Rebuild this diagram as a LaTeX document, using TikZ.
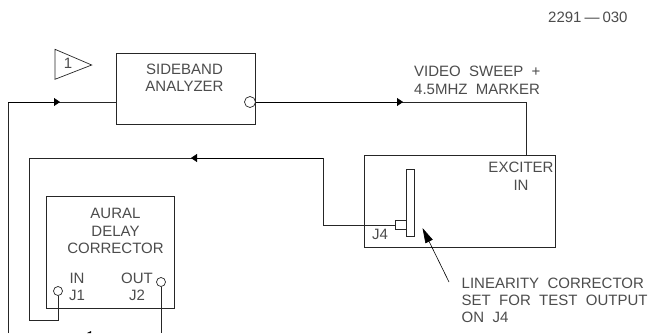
\documentclass[tikz,border=0pt]{standalone}
\usepackage{fontspec}
\setmainfont{Liberation Sans}
\usetikzlibrary{arrows.meta}
\tikzset{
  x=1pt,y=-1pt,
  ln/.style={draw=black!85,line width=0.8pt},
  boxs/.style={draw=black!85,line width=0.8pt,fill=white,inner sep=0pt,outer sep=0pt},
  jack/.style={circle,draw=black!85,line width=0.7pt,fill=white,minimum size=9pt,inner sep=0pt,outer sep=0pt},
  lab/.style={font=\fontsize{15}{16}\selectfont,text=black!70,inner sep=0pt,align=center,anchor=base},
  laball/.style={font=\fontsize{15}{16}\selectfont,text=black!70,inner sep=0pt,align=left,anchor=base west},
  fwd/.style={-{Triangle[length=6pt,width=8pt,fill=black]}},
}
\begin{document}
\begin{tikzpicture}
\useasboundingbox (0,0) rectangle (649,333);
\fill[white] (0,0) rectangle (649,333);
% coordinates
\coordinate (a1) at (8,333);
\coordinate (a2) at (8,102);
\coordinate (am) at (60,102);
\coordinate (b1) at (323,225);
\coordinate (b2) at (323,158);
\coordinate (b3) at (191,158);
\coordinate (b4) at (29,158);
\coordinate (b5) at (29,320);
\coordinate (b6) at (58,320);
\coordinate (c2) at (526.5,102);
\coordinate (cm) at (403,102);
\coordinate (d1) at (161,333);
\coordinate (lead) at (449,282);
\coordinate (tip) at (422.5,228);
% boxes
\node[boxs,anchor=north west,minimum width=139pt,minimum height=70.5pt] (sb) at (116.5,53.5) {};
\node[boxs,anchor=north west,minimum width=128pt,minimum height=112pt] (ad) at (46.5,196.5) {};
\node[boxs,anchor=north west,minimum width=191pt,minimum height=92pt] (ex) at (364.5,155) {};
\node[boxs,anchor=north west,minimum width=8.5pt,minimum height=67.5pt] (lc) at (406,169) {};
\node[boxs,anchor=north west,minimum width=11pt,minimum height=8.5pt] (j4) at (395,220.7) {};
\node[jack,minimum size=11pt] (so) at (250,102) {};
\node[jack] (j1) at (58,291) {};
\node[jack] (j2) at (161,282) {};
\draw[draw=black!85,line width=0.7pt] (55,49.3) -- (91.7,65) -- (55,79.3) -- cycle;
% connectors
\draw[ln] (a1) -- (a2) -- (sb.west |- a2);
\draw[fwd,draw=black] (a2) -- (am);
\draw[ln] (so) -- (c2) -- (c2 |- ex.north);
\draw[fwd,draw=black] (so) -- (cm);
\draw[ln] (j4.west) -- (b1 |- j4.west) -- (b2) -- (b4) -- (b5) -- (b6) -- (j1);
\draw[fwd,draw=black] (b2) -- (b3);
\draw[ln] (j2) -- (d1);
\draw[-{Triangle[length=15pt,width=8pt,fill=black]},draw=black,line width=0.6pt] (lead) -- (tip);
\fill[black] (91,331) -- (87,333) -- (91,333) -- cycle;
% text
\node[lab] (n0) at (184.5,74) {SIDEBAND};
\node[lab] (n1) at (184.5,91) {ANALYZER};
\node[lab] (n2) at (115.5,218) {AURAL};
\node[lab] (n3) at (115.5,236) {DELAY};
\node[lab] (n4) at (115.5,253) {CORRECTOR};
\node[lab] (n5) at (77,283) {IN};
\node[lab] (n6) at (77,300) {J1};
\node[lab] (n7) at (137,283) {OUT};
\node[lab] (n8) at (137,300) {J2};
\node[lab] (n9) at (521,172.7) {EXCITER};
\node[lab] (n10) at (521,190) {IN};
\node[lab] (n11) at (380,239) {J4};
\node[lab] (n12) at (68,68) {1};
\node[laball] (n13) at (414,76.7) {VIDEO\ \ SWEEP\ \ +};
\node[laball] (n14) at (414,94) {4.5MHZ\ \ MARKER};
\node[laball] (n15) at (461.5,288) {LINEARITY\ \ CORRECTOR};
\node[laball] (n16) at (461.5,305) {SET\ \ FOR\ \ TEST\ \ OUTPUT};
\node[laball] (n17) at (461.5,322.7) {ON\ \ J4};
\node[laball] (n18) at (548,22.7) {2291\kern3pt—\kern3pt030};
\end{tikzpicture}
\end{document}
